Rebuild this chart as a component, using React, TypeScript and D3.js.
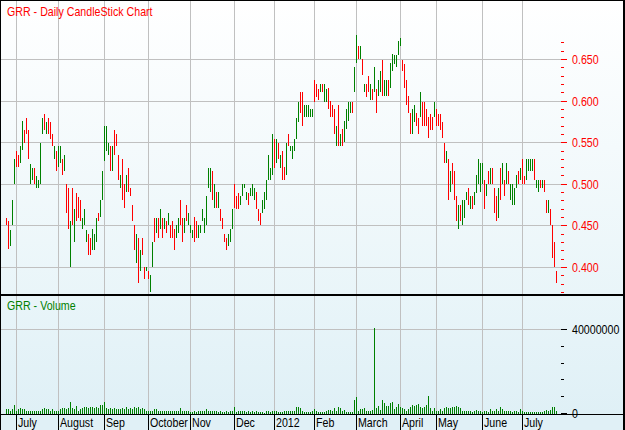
import React, { useEffect } from "react";
import * as d3 from "d3";

// ---------- DATA ----------
const high: number[] = [
  0.460,0.456,0.445,0.481,0.530,0.540,0.535,0.546,0.576,0.565,
  0.580,0.565,0.525,0.520,0.520,0.510,0.505,0.550,0.580,0.585,
  0.575,0.580,0.575,0.560,0.546,0.540,0.546,0.546,0.530,0.535,
  0.500,0.495,0.456,0.495,0.470,0.490,0.485,0.481,0.460,0.470,
  0.445,0.440,0.435,0.446,0.440,0.460,0.466,0.481,0.516,0.570,
  0.570,0.550,0.546,0.546,0.565,0.560,0.535,0.511,0.530,0.500,
  0.511,0.520,0.496,0.475,0.451,0.440,0.436,0.421,0.436,0.401,
  0.401,0.396,0.391,0.431,0.460,0.460,0.460,0.470,0.460,0.460,
  0.456,0.465,0.451,0.456,0.446,0.451,0.460,0.481,0.460,0.460,
  0.475,0.465,
  0.451,0.445,0.461,0.456,0.451,0.451,0.470,0.460,0.486,0.520,
  0.520,0.516,0.500,0.491,0.491,0.470,0.460,0.440,0.436,0.440,
  0.446,0.470,0.500,0.486,0.490,0.486,0.500,0.500,0.491,0.490,
  0.495,0.500,0.495,0.491,0.470,0.466,0.481,0.491,0.505,0.535,
  0.520,0.560,0.555,0.555,0.550,0.535,0.540,0.521,0.550,0.560,
  0.546,0.546,0.555,0.580,0.599,0.611,0.611,0.595,0.595,0.595,
  0.590,0.590,0.625,0.620,0.615,0.620,0.620,0.620,0.615,0.616,
  0.600,0.595,0.590,0.570,0.595,0.560,0.566,0.576,0.590,0.599,
  0.599,0.599,0.641,0.680,0.666,0.666,0.651,0.620,0.620,0.630,
  0.620,0.615,0.641,
  0.615,0.625,0.636,0.650,0.625,0.625,0.625,0.646,0.657,0.655,
  0.655,0.672,0.676,0.650,0.645,0.625,0.606,0.586,0.590,0.595,
  0.586,0.580,0.611,0.599,0.599,0.590,0.581,0.585,0.581,0.599,
  0.590,0.585,0.585,0.575,0.550,0.540,0.530,0.516,0.526,0.516,
  0.486,0.475,0.475,0.481,0.481,0.491,0.495,0.486,0.486,0.491,
  0.511,0.530,0.526,0.526,0.505,0.500,0.516,0.520,0.520,0.495,
  0.486,0.495,0.520,0.526,0.505,0.526,0.516,0.500,0.500,0.495,
  0.511,0.516,0.520,0.530,0.510,0.530,0.530,0.530,0.530,0.530,
  0.505,0.505,0.505,0.505,0.505,0.481,0.481,0.470,0.451,0.431,
  0.396,
];

const low: number[] = [
  0.451,0.422,0.426,0.451,0.500,0.521,0.521,0.526,0.541,0.550,
  0.560,0.531,0.500,0.505,0.500,0.496,0.496,0.500,0.560,0.565,
  0.560,0.560,0.555,0.546,0.530,0.516,0.521,0.526,0.511,0.516,
  0.466,0.446,0.401,0.451,0.431,0.456,0.460,0.456,0.446,0.451,
  0.431,0.415,0.415,0.421,0.421,0.431,0.456,0.461,0.481,0.528,
  0.540,0.535,0.516,0.516,0.535,0.546,0.505,0.495,0.481,0.471,
  0.491,0.491,0.486,0.456,0.421,0.406,0.381,0.396,0.415,0.386,
  0.396,0.386,0.371,0.401,0.431,0.441,0.436,0.446,0.436,0.446,
  0.441,0.451,0.436,0.436,0.421,0.436,0.441,0.451,0.431,0.441,
  0.456,0.451,
  0.441,0.436,0.431,0.436,0.436,0.441,0.456,0.441,0.451,0.496,
  0.491,0.481,0.471,0.471,0.471,0.456,0.446,0.431,0.421,0.426,
  0.431,0.446,0.471,0.470,0.470,0.475,0.486,0.495,0.481,0.475,
  0.486,0.486,0.481,0.470,0.456,0.451,0.466,0.470,0.481,0.505,
  0.505,0.511,0.520,0.526,0.531,0.520,0.505,0.505,0.511,0.546,
  0.540,0.531,0.540,0.555,0.575,0.586,0.570,0.581,0.581,0.581,
  0.581,0.581,0.599,0.605,0.601,0.611,0.611,0.599,0.599,0.591,
  0.581,0.581,0.561,0.546,0.546,0.546,0.546,0.551,0.566,0.576,
  0.586,0.586,0.611,0.646,0.651,0.651,0.631,0.611,0.605,0.611,
  0.601,0.601,0.611,
  0.586,0.606,0.611,0.606,0.606,0.606,0.606,0.616,0.636,0.645,
  0.641,0.655,0.666,0.636,0.616,0.595,0.586,0.560,0.560,0.575,
  0.570,0.560,0.581,0.570,0.570,0.570,0.556,0.565,0.565,0.581,
  0.570,0.570,0.565,0.556,0.526,0.526,0.481,0.491,0.500,0.481,
  0.456,0.446,0.456,0.451,0.460,0.481,0.475,0.470,0.470,0.475,
  0.490,0.500,0.491,0.500,0.470,0.486,0.500,0.500,0.500,0.465,
  0.456,0.460,0.481,0.500,0.486,0.500,0.500,0.481,0.475,0.475,
  0.495,0.500,0.505,0.500,0.500,0.505,0.516,0.516,0.516,0.505,
  0.495,0.491,0.495,0.495,0.491,0.466,0.466,0.451,0.411,0.401,
  0.381,
];

// G = close above open (up day), R = close below open (down day)
const direction: string =
  "RRGGGRRGGR" + "RRGGRGGGGR" + "GRRRGRGGRG" + "RRGRGRRRGG" + "GRRGGGRGGG" +
  "GGRGRRRGRR" + "GRRRRGRGRR" + "GRGGRGRGRG" + "RGRRRGGRRG" + "RG" +
  "GGRRGGGGGG" + "GRGRGRRRRG" + "GGRRRGGGGR" + "GGGRRRGGGG" + "GGRGRGRRGR" +
  "GGGGGRRGGG" + "GGRRRGRGGR" + "RRRGRGRGGG" + "GRGGRGRGRR" + "GRG" +
  "RGGRGGRGGG" + "GGGRRRRRGG" + "RRGRRRRRRG" + "RRRRRGRGRR" + "RGRGGGRGRG" +
  "GGGGRGRGRR" + "RGRGRGRGGG" + "GRGRRGGGGR" + "GGRGRRGRRR" + "R";

// volume in millions of shares
const volumeM: number[] = [
  2.1,2.1,1.4,2.1,4.0,1.4,2.1,2.5,2.1,2.1,
  1.4,1.4,1.0,1.4,1.0,1.0,1.0,1.0,2.1,2.5,
  2.1,2.1,1.4,2.1,1.0,1.4,1.0,2.1,2.5,2.5,
  2.1,2.5,5.6,2.5,2.1,3.7,1.4,2.1,2.5,3.0,
  3.0,2.5,3.0,3.3,2.5,3.3,2.5,4.1,4.1,5.6,
  2.5,2.1,2.5,2.1,2.5,2.1,2.1,2.1,2.5,2.1,
  3.3,2.1,2.5,2.1,3.3,2.5,3.0,2.1,2.5,2.1,
  1.4,1.0,1.4,1.4,2.1,2.1,1.4,1.4,1.0,1.0,
  1.4,1.0,1.0,1.0,1.4,1.0,1.4,2.5,1.0,1.4,
  1.0,1.0,0.5,0.5,1.0,0.5,1.0,1.4,1.0,1.4,
  2.1,1.4,
  1.4,1.0,1.4,1.0,0.5,1.0,0.5,0.5,1.0,0.5,
  1.0,1.0,2.9,0.5,1.4,1.0,1.4,1.0,0.5,1.0,
  0.5,1.0,0.5,1.0,0.5,0.5,0.5,0.3,1.0,1.4,
  0.5,1.0,1.4,1.0,0.5,0.5,0.5,1.0,1.0,1.0,
  1.0,1.4,1.0,3.0,3.3,2.5,1.0,0.5,0.5,0.5,
  0.5,1.0,2.2,1.0,0.5,0.5,0.5,0.5,1.0,1.7,
  1.7,1.0,2.5,1.4,2.9,2.5,1.4,1.7,0.5,0.5,
  0.5,0.5,6.5,7.9,1.0,2.1,2.2,2.5,1.0,1.4,
  1.4,1.7,40.6,2.5,3.8,1.7,6.5,5.2,3.6,3.6,
  4.9,5.4,2.1,2.9,4.4,3.3,2.5,2.1,1.0,2.1,
  2.9,
  4.1,3.7,4.1,4.6,3.3,2.5,3.0,4.1,8.4,2.5,
  1.0,2.5,1.0,1.4,2.1,1.4,2.5,3.0,2.5,2.5,
  3.0,3.3,3.7,3.3,2.5,1.4,1.4,1.0,1.0,1.4,
  0.5,1.4,1.7,1.0,1.0,0.5,1.0,1.0,0.5,2.2,
  1.0,1.4,2.1,1.4,3.0,2.1,1.0,1.0,1.0,1.0,
  0.5,1.0,1.0,0.5,2.1,1.0,0.5,0.5,0.5,0.5,
  0.5,0.5,0.5,0.5,0.5,0.5,1.4,1.7,1.0,1.7,
  3.3,3.0,1.0,
];

const monthLabels: string[] = ["July","August","Sep","October","Nov","Dec","2012","Feb","March","April","May","June","July"];
const monthStartIndex: number[] = [5,26,49,71,92,114,134,154,175,197,215,238,258];

const priceTicks: number[] = [0.40,0.45,0.50,0.55,0.60,0.65];
const volumeTicks: number[] = [0, 40000000];

const title = "GRR - Daily CandleStick Chart";
const volTitle = "GRR - Volume";

// ---------- STYLE ----------
const FONT = "'Liberation Sans',Arial,sans-serif";
const SX = 0.82; // horizontal condensing to mimic a narrow face
const RED = "#ff0000";
const GREEN = "#008000";
const GRID = "#c0c0c0";

function T(props: { x: number; y: number; fill: string; children: React.ReactNode }) {
  return (
    <text transform={`translate(${props.x},${props.y}) scale(${SX},1)`} fill={props.fill}
      fontFamily={FONT} fontSize={13}>{props.children}</text>
  );
}

export default function App() {
  useEffect(() => {
    document.body.style.margin = "0";
  }, []);

  const W = 625, H = 430;
  const plotLeft = 0, plotRight = 561;
  const priceBottom = 295, volBottom = 415;
  const N = high.length;

  const x = d3.scaleLinear().domain([0, N - 1]).range([6, 556]);
  const yP = d3.scaleLinear().domain([0.40, 0.65]).range([267.5, 59.5]);
  const yV = d3.scaleLinear().domain([0, 40000000]).range([413.5, 329.5]);

  const minorPrice = d3.range(37, 68).map((k) => k / 100);
  const minorVol = d3.range(0, 40000001, 8000000);
  const fmt = d3.format(".3f");

  return (
    <svg width={W} height={H} style={{ position: "absolute", left: 0, top: 0, display: "block" }}>
      <defs>
        <linearGradient id="gP" x1="0" y1="0" x2="0" y2="1">
          <stop offset="0" stopColor="#ffffff" />
          <stop offset="1" stopColor="#e9f5f9" />
        </linearGradient>
        <linearGradient id="gV" x1="0" y1="0" x2="0" y2="1">
          <stop offset="0" stopColor="#e9f5f9" />
          <stop offset="1" stopColor="#dff0f6" />
        </linearGradient>
      </defs>
      {/* backgrounds */}
      <rect x={0} y={0} width={W} height={priceBottom} fill="url(#gP)" />
      <rect x={0} y={priceBottom} width={W} height={volBottom - priceBottom} fill="url(#gV)" />
      <rect x={0} y={volBottom} width={W} height={H - volBottom} fill="#e0f0f6" />

      {/* horizontal grid - price */}
      {priceTicks.map((v) => (
        <line key={"hp" + v} x1={plotLeft} x2={plotRight} y1={Math.floor(yP(v)) + 0.5} y2={Math.floor(yP(v)) + 0.5} stroke={GRID} />
      ))}
      {/* horizontal grid - volume */}
      <line x1={plotLeft} x2={plotRight} y1={Math.floor(yV(40000000)) + 0.5} y2={Math.floor(yV(40000000)) + 0.5} stroke={GRID} />
      {/* vertical grid */}
      {monthStartIndex.map((idx) => (
        <line key={"vg" + idx} x1={x(idx) + 0.5} x2={x(idx) + 0.5} y1={0} y2={volBottom} stroke={GRID} />
      ))}

      {/* candles */}
      {high.map((h, i) => {
        const y0 = Math.round(yP(h));
        const y1 = Math.round(yP(low[i]));
        return (
          <rect key={"c" + i} x={x(i)} y={y0} width={1} height={Math.max(1, y1 - y0)}
            fill={direction[i] === "G" ? GREEN : RED} />
        );
      })}

      {/* volume bars */}
      {volumeM.map((v, i) => {
        const y0 = Math.round(yV(v * 1e6));
        const base = Math.round(yV(0));
        return <rect key={"v" + i} x={x(i)} y={y0} width={1} height={Math.max(1, base - y0)} fill={GREEN} />;
      })}

      {/* price axis ticks */}
      {minorPrice.map((v) => {
        const major = Math.abs(Math.round(v * 100) % 5) === 0;
        const yy = Math.floor(yP(v)) + 0.5;
        return <line key={"pt" + v} x1={plotRight} x2={plotRight + (major ? 6 : 3)} y1={yy} y2={yy} stroke={RED} />;
      })}
      {priceTicks.map((v) => (
        <T key={"pl" + v} x={572} y={Math.floor(yP(v)) + 5} fill={RED}>{fmt(v)}</T>
      ))}

      {/* volume axis ticks */}
      {minorVol.map((v) => {
        const major = v === 0 || v === 40000000;
        const yy = Math.floor(yV(v)) + 0.5;
        return <line key={"vt" + v} x1={plotRight} x2={plotRight + (major ? 6 : 3)} y1={yy} y2={yy} stroke="#000" />;
      })}
      {volumeTicks.map((v) => (
        <T key={"vl" + v} x={572} y={Math.floor(yV(v)) + 5} fill="#000">{String(v)}</T>
      ))}

      {/* frame lines */}
      <rect x={0} y={0} width={W} height={1} fill="#000" />
      <rect x={0} y={0} width={1} height={H} fill="#000" />
      <rect x={W - 2} y={0} width={2} height={H} fill="#000" />
      <rect x={0} y={294} width={W} height={2} fill="#000" />
      <rect x={0} y={414} width={W} height={1} fill="#000" />

      {/* x-axis label separators and labels */}
      {monthStartIndex.map((idx, k) => (
        <g key={"ml" + k}>
          <line x1={x(idx) + 0.5} x2={x(idx) + 0.5} y1={volBottom} y2={H} stroke="#000" />
          <T x={x(idx) + 2} y={427} fill="#000">{monthLabels[k]}</T>
        </g>
      ))}

      {/* titles */}
      <T x={7} y={16} fill={RED}>{title}</T>
      <T x={7} y={309.5} fill={GREEN}>{volTitle}</T>
    </svg>
  );
}
